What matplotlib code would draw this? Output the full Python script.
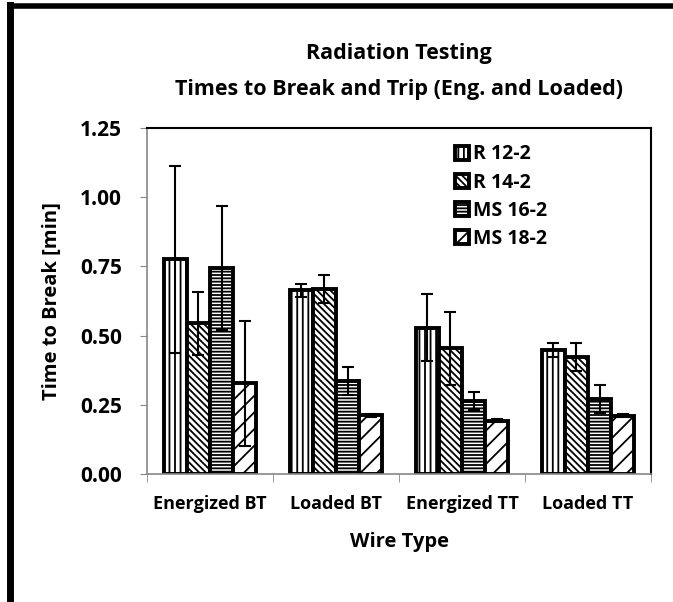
import matplotlib
matplotlib.use("Agg")
import matplotlib.pyplot as plt
import numpy as np
from matplotlib.lines import Line2D

plt.rcParams['font.family'] = ['Open Sans', 'DejaVu Sans']
plt.rcParams['hatch.linewidth'] = 1.3

categories = ["Energized BT", "Loaded BT", "Energized TT", "Loaded TT"]
series = ["R 12-2", "R 14-2", "MS 16-2", "MS 18-2"]
values = {
    "R 12-2":  [0.775, 0.663, 0.529, 0.448],
    "R 14-2":  [0.544, 0.668, 0.454, 0.422],
    "MS 16-2": [0.745, 0.336, 0.265, 0.271],
    "MS 18-2": [0.327, 0.212, 0.193, 0.210],
}
errors = {
    "R 12-2":  [0.338, 0.025, 0.122, 0.024],
    "R 14-2":  [0.114, 0.050, 0.132, 0.050],
    "MS 16-2": [0.225, 0.051, 0.033, 0.050],
    "MS 18-2": [0.225, 0.005, 0.005, 0.005],
}
hatches = ["|||", "\\\\\\\\\\", "-----", "//"]
yticks = [0.00, 0.25, 0.50, 0.75, 1.00, 1.25]

fig = plt.figure(figsize=(6.73, 6.02), dpi=100)
ax = fig.add_axes([147/673, 1 - 474/602, (651-147)/673, (474-128)/602])

x = np.arange(len(categories))
w = 0.183
for i, s in enumerate(series):
    pos = x + (i - 1.5) * w
    ax.bar(pos, values[s], width=w, color="white", edgecolor="black",
           linewidth=2.8, hatch=hatches[i], label=s, zorder=2)
    ax.errorbar(pos, values[s], yerr=errors[s], fmt="none", ecolor="black",
                elinewidth=1.5, capsize=4, capthick=1.5, zorder=3)

ax.set_xlim(-0.5, 3.5)
ax.set_ylim(0, 1.25)
ax.set_yticks(yticks)
ax.set_yticklabels([f"{v:.2f}" for v in yticks], fontsize=15, fontweight="bold")
ax.set_xticks(x)
ax.set_xticklabels(categories, fontsize=13, fontweight="bold")
ax.tick_params(axis="x", length=0, pad=15)
ax.set_xticks(np.arange(-0.5, 4.0, 1.0), minor=True)
ax.tick_params(axis="x", which="minor", length=6, color="#888888", direction="out")
ax.tick_params(axis="y", length=5, color="#888888", pad=13)

for side in ["left", "bottom"]:
    ax.spines[side].set_color("#888888")
    ax.spines[side].set_linewidth(1.2)
for side in ["top", "right"]:
    ax.spines[side].set_color("black")
    ax.spines[side].set_linewidth(1.5)

ax.set_xlabel("Wire Type", fontsize=14.5, fontweight="bold", labelpad=14)
ax.set_ylabel("Time to Break [min]", fontsize=14.5, fontweight="bold", labelpad=13)

fig.text(399/673, 1 - 54/602, "Radiation Testing", ha="center", va="center",
         fontsize=15.5, fontweight="bold")
fig.text(399/673, 1 - 89/602, "Times to Break and Trip (Eng. and Loaded)", ha="center",
         va="center", fontsize=15.5, fontweight="bold")

leg = ax.legend(loc="upper left", bbox_to_anchor=(0.595, 0.975), frameon=False,
                prop={"size": 14, "weight": "bold"}, handlelength=0.75, handleheight=0.75,
                handletextpad=0.2, labelspacing=0.42, borderaxespad=0)

fig.add_artist(Line2D([9.5/673, 9.5/673], [0, 1 - 5/602], transform=fig.transFigure,
                      color="black", linewidth=5))
fig.add_artist(Line2D([9.5/673, 1], [1 - 5.5/602, 1 - 5.5/602], transform=fig.transFigure,
                      color="black", linewidth=4))

fig.savefig("out.png", dpi=100)
